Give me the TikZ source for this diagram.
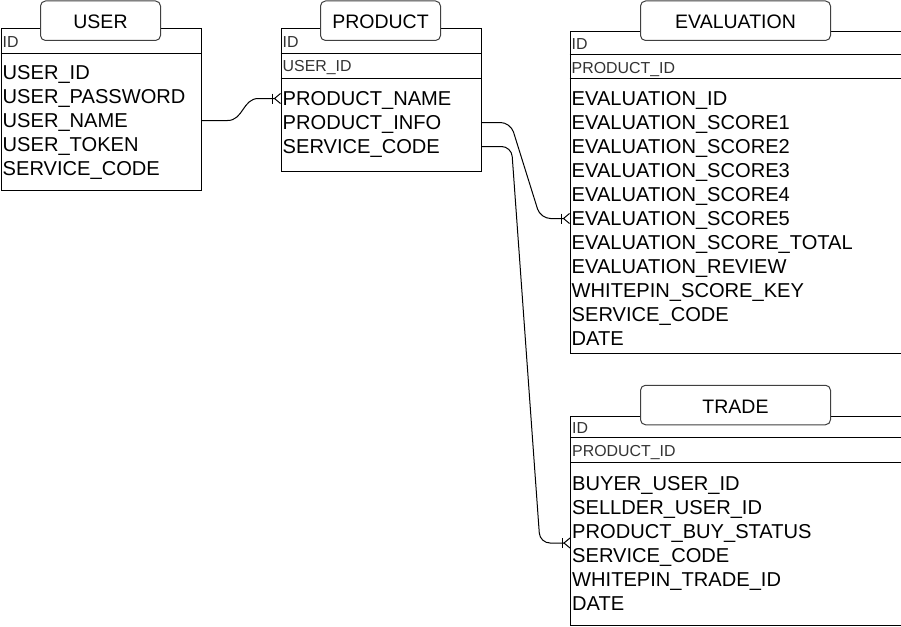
\documentclass[tikz,border=0pt]{standalone}
\usepackage{fontspec}
\setmainfont{Liberation Sans}
\usetikzlibrary{calc}
\begin{document}
\begin{tikzpicture}[x=1pt, y=-1pt,
  tbl/.style={draw=black, line width=1pt, anchor=north west, inner sep=0},
  tab/.style={draw=black!75, fill=white, line width=1pt, rounded corners=5pt, inner sep=0, minimum height=39.5, text height=16, text depth=0, font=\fontsize{19.5}{20}\selectfont},
  key/.style={anchor=west, inner sep=0, text height=11, text depth=0, text=black!80, font=\fontsize{15.9}{16}\selectfont},
  row/.style={anchor=west, inner sep=0, text height=14, text depth=0, text=black, font=\fontsize{20.1}{21}\selectfont},
  rel/.style={draw=black, line width=1pt},
  crowfoot/.pic={\draw[line width=1pt] (0,-5) -- (-6,0) -- (0,5); \draw[line width=1pt] (-8,-5) -- (-8,5);}
]
\useasboundingbox (0,0) rectangle (901,626);
\node[tbl, minimum width=200, minimum height=161] (U) at (0.5,28.5) {};
\node[tbl, minimum width=200, minimum height=142] (P) at (280.5,28.5) {};
\node[tbl, minimum width=331, minimum height=321.5] (E) at (569.5,31) {};
\node[tbl, minimum width=330.5, minimum height=209.5] (T) at (570,415.5) {};
\draw[rel] (U.north west) ++(0,25) -- ++(200,0);
\draw[rel] (P.north west) ++(0,25) -- ++(200,0);
\draw[rel] (P.north west) ++(0,50) -- ++(200,0);
\draw[rel] (E.north west) ++(0,24) -- ++(331,0);
\draw[rel] (E.north west) ++(0,47.5) -- ++(331,0);
\draw[rel] (T.north west) ++(0,22) -- ++(330.5,0);
\draw[rel] (T.north west) ++(0,47) -- ++(330.5,0);
\node[tab, minimum width=120] (Ut) at (100.5,20.75) {USER};
\node[tab, minimum width=120] (Pt) at (380.5,20.75) {PRODUCT};
\node[tab, minimum width=190] (Et) at (735.5,20.75) {EVALUATION};
\node[tab, minimum width=190] (Tt) at (735.5,405) {TRADE};
\node[key] (Uid) at (2.5,41.8) {ID};
\node[key] (Pid) at (282.5,41.8) {ID};
\node[key] (Pfk) at (282.5,66.2) {USER\_ID};
\node[key] (Eid) at (571.5,44) {ID};
\node[key] (Efk) at (571.5,68) {PRODUCT\_ID};
\node[key] (Tid) at (572,428) {ID};
\node[key] (Tfk) at (572,451) {PRODUCT\_ID};
\node[row] (U1) at (2.5,72.5) {USER\_ID};
\node[row] (U2) at (2.5,96.5) {USER\_PASSWORD};
\node[row] (U3) at (2.5,120.5) {USER\_NAME};
\node[row] (U4) at (2.5,144.5) {USER\_TOKEN};
\node[row] (U5) at (2.5,168.5) {SERVICE\_CODE};
\node[row] (P1) at (282.5,98.5) {PRODUCT\_NAME};
\node[row] (P2) at (282.5,122.5) {PRODUCT\_INFO};
\node[row] (P3) at (282.5,146.5) {SERVICE\_CODE};
\node[row] (E1) at (571.5,98.5) {EVALUATION\_ID};
\node[row] (E2) at (571.5,122.5) {EVALUATION\_SCORE1};
\node[row] (E3) at (571.5,146.5) {EVALUATION\_SCORE2};
\node[row] (E4) at (571.5,170.5) {EVALUATION\_SCORE3};
\node[row] (E5) at (571.5,194.5) {EVALUATION\_SCORE4};
\node[row] (E6) at (571.5,218.5) {EVALUATION\_SCORE5};
\node[row] (E7) at (571.5,242.5) {EVALUATION\_SCORE\_TOTAL};
\node[row] (E8) at (571.5,266.5) {EVALUATION\_REVIEW};
\node[row] (E9) at (571.5,290.5) {WHITEPIN\_SCORE\_KEY};
\node[row] (E10) at (571.5,314.5) {SERVICE\_CODE};
\node[row] (E11) at (571.5,338.5) {DATE};
\node[row] (T1) at (572,483) {BUYER\_USER\_ID};
\node[row] (T2) at (572,507) {SELLDER\_USER\_ID};
\node[row] (T3) at (572,531) {PRODUCT\_BUY\_STATUS};
\node[row] (T4) at (572,555) {SERVICE\_CODE};
\node[row] (T5) at (572,579) {WHITEPIN\_TRADE\_ID};
\node[row] (T6) at (572,603) {DATE};
\coordinate (Tm) at ($(T3.west)!0.5!(T4.west)$);
\draw[rel] (U.east |- U3) -- ++(26,0) .. controls +(16,0) and +(-16,0) .. ($(P.west |- P1)+(-22,0)$) -- ($(P.west |- P1)+(-6,0)$);
\draw[rel, rounded corners=10pt] (P.east |- P2) -- ++(29,0) -- ($(E.west |- E6)+(-29,0)$) -- ($(E.west |- E6)+(-6,0)$);
\draw[rel, rounded corners=10pt] (P.east |- P3) -- ++(30,0) -- ($(T.west |- Tm)+(-30,0)$) -- ($(T.west |- Tm)+(-6,0)$);
\pic at (P.west |- P1) {crowfoot};
\pic at (E.west |- E6) {crowfoot};
\pic at (T.west |- Tm) {crowfoot};
\end{tikzpicture}
\end{document}
